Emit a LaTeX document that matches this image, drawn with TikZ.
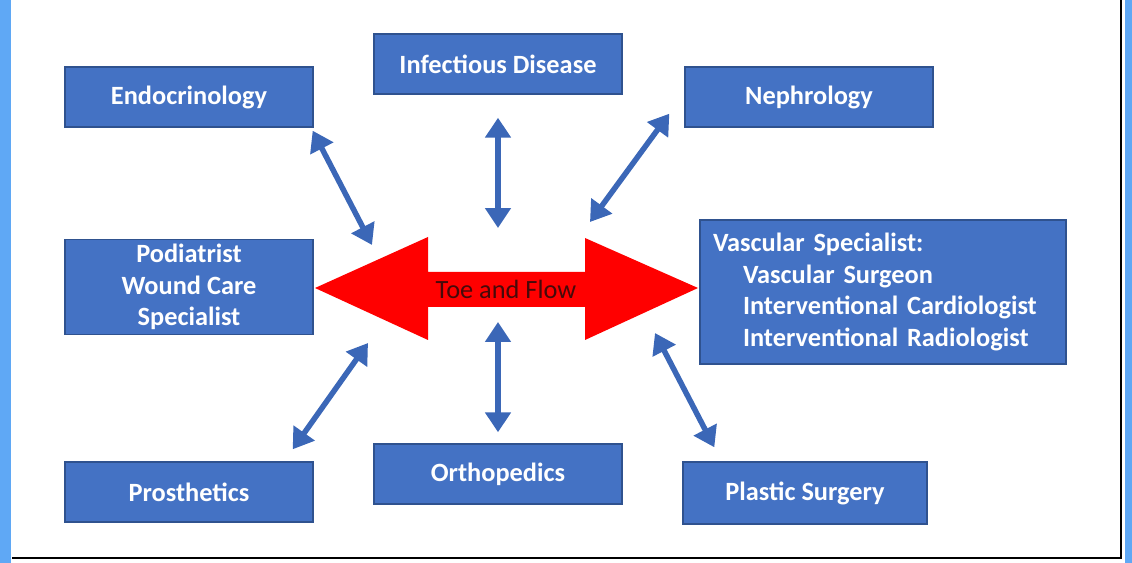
\documentclass[tikz,border=0pt]{standalone}
\usepackage{fontspec}
\setmainfont{Carlito}
\usepackage{tikz}
\usetikzlibrary{arrows.meta,calc}
\usepackage{xcolor}
\definecolor{boxblue}{RGB}{68,114,196}
\definecolor{boxedge}{RGB}{47,82,143}
\definecolor{linkblue}{RGB}{59,103,183}
\definecolor{sideblue}{RGB}{95,168,245}
\definecolor{toered}{RGB}{255,0,0}
\definecolor{toetext}{RGB}{70,10,10}

\begin{document}
\begin{tikzpicture}[x=0.02cm,y=-0.02cm,>={Triangle[length=0.4cm,width=0.5cm]},
  spec/.style={draw=boxedge,line width=0.8pt,fill=boxblue,text=white,
    font=\fontsize{15}{18}\selectfont\bfseries,align=center,
    minimum width=4.96cm,minimum height=1.2cm,inner sep=2pt},
  link/.style={<->,draw=linkblue,line width=0.11cm}]

% --- frame ---
\useasboundingbox (0,0) rectangle (1132,563);
\fill[sideblue] (0,0) rectangle (11,563);
\fill[sideblue] (1125,0) rectangle (1132,563);
\draw[line width=1.2pt] (1121,0) -- (1121,558) -- (12,558);

% --- specialties ---
\node[spec] (endo) at (189,97) {Endocrinology};
\node[spec] (inf) at (498,64) {Infectious Disease};
\node[spec] (neph) at (809,97) {Nephrology};
\node[spec,minimum height=1.9cm] (pod) at (189,287) {Podiatrist\\Wound Care\\Specialist};
\node[spec,minimum width=7.32cm,minimum height=2.68cm,text width=6.8cm,
  align=left,inner sep=0.26cm] (vasc) at (883,292)
  {Vascular Specialist:\\
   \hspace*{0.6cm}Vascular Surgeon\\
   \hspace*{0.6cm}Interventional Cardiologist\\
   \hspace*{0.6cm}Interventional Radiologist};
\node[spec] (pros) at (189,492) {Prosthetics};
\node[spec] (orth) at (498,474) {Orthopedics};
\node[spec,minimum width=4.88cm,minimum height=1.24cm] (plast) at (805,493) {Plastic Surgery};

% --- toe and flow ---
\fill[toered] (315,288) -- (428,237) -- (428,272) -- (585,272) -- (585,238)
  -- (698,288) -- (585,340) -- (585,307) -- (428,307) -- (428,340) -- cycle;
\node[font=\fontsize{15}{18}\selectfont,text=toetext] (toe) at (506,289) {Toe and Flow};

% --- links ---
\coordinate (hubnw) at (372,245);
\coordinate (hubn) at (498,228);
\coordinate (hubne) at (590,222);
\coordinate (hubsw) at (368,343);
\coordinate (hubs) at (498,322);
\coordinate (hubse) at (655,333);
\draw[link] ([shift={(-1,3)}]endo.south east) -- (hubnw);
\draw[link] ([shift={(0,23)}]inf.south) -- (hubn);
\draw[link] ([shift={(-15,-14)}]neph.south west) -- (hubne);
\draw[link] ([shift={(-21,-12)}]pros.north east) -- (hubsw);
\draw[link] ([shift={(0,-11)}]orth.north) -- (hubs);
\draw[link] ([shift={(32,-14)}]plast.north west) -- (hubse);

\end{tikzpicture}
\end{document}
